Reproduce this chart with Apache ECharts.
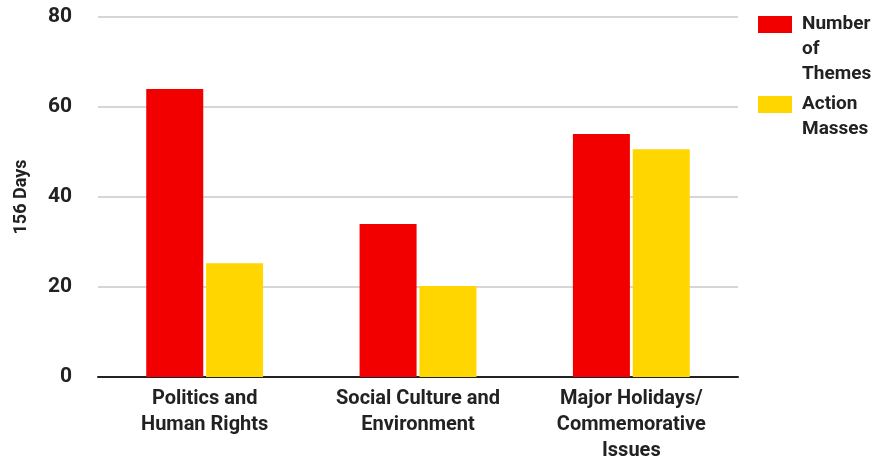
<!DOCTYPE html>
<html><head><meta charset="utf-8">
<script src="https://cdn.jsdelivr.net/npm/echarts@6/dist/echarts.min.js"></script>
<style>html,body{margin:0;padding:0;background:#fff}#c{width:874px;height:459px}</style>
</head><body><div id="c"></div>
<script>
const categories = ["Politics and\nHuman Rights", "Social Culture and\nEnvironment", "Major Holidays/\nCommemorative\nIssues"];
const seriesNames = ["Number of Themes", "Action Masses"];
const numberOfThemes = [64, 34, 54];
const actionMasses = [25.3, 20.2, 50.6];
const yTicks = { min: 0, max: 80, interval: 20 };
const yAxisName = "156 Days";

const FONT = "Roboto, 'Liberation Sans', Arial, sans-serif";
const chart = echarts.init(document.getElementById('c'), null, { renderer: 'canvas' });
chart.setOption({
  animation: false,
  backgroundColor: '#fff',
  grid: { left: 98, right: 136, top: 17, bottom: 82, outerBoundsMode: 'none', containLabel: false },
  legend: {
    orient: 'vertical',
    left: 758,
    top: -38,
    padding: 0,
    itemGap: -20,
    itemWidth: 39,
    itemHeight: 17,
    itemStyle: { borderWidth: 0 },
    icon: 'path://M0,0H34V17H0Z M39,17L39,17',
    formatter: function (n) { return n === seriesNames[0] ? '\n\nNumber\nof\nThemes' : '\nAction\nMasses'; },
    textStyle: { fontFamily: FONT, fontSize: 19, fontWeight: 'bold', color: '#222', lineHeight: 25 }
  },
  xAxis: {
    type: 'category',
    data: categories,
    axisLine: { lineStyle: { color: '#222', width: 2 } },
    axisTick: { show: false },
    axisLabel: { fontFamily: FONT, fontSize: 20, fontWeight: 'bold', color: '#222', lineHeight: 26, margin: 9, interval: 0 }
  },
  yAxis: {
    type: 'value',
    min: yTicks.min, max: yTicks.max, interval: yTicks.interval,
    name: yAxisName,
    nameLocation: 'middle',
    nameGap: 68,
    nameTextStyle: { fontFamily: FONT, fontSize: 18, fontWeight: 'bold', color: '#222' },
    axisLine: { show: false },
    axisTick: { show: false },
    axisLabel: { fontFamily: FONT, fontSize: 21, fontWeight: 'bold', color: '#222', margin: 26 },
    splitLine: { lineStyle: { color: '#c8c8c8', width: 1.5 } }
  },
  series: [
    { name: seriesNames[0], type: 'bar', data: numberOfThemes, barWidth: 57, barGap: '5%', itemStyle: { color: '#F20000' } },
    { name: seriesNames[1], type: 'bar', data: actionMasses, barWidth: 57, barGap: '5%', itemStyle: { color: '#FFD600' } }
  ]
});
</script></body></html>
